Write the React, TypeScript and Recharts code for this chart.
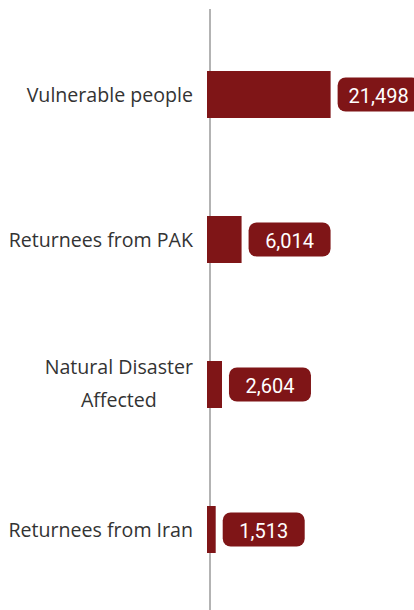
import React from 'react';
import { BarChart, Bar, XAxis, YAxis, LabelList, CartesianGrid } from 'recharts';

const categories = ['Vulnerable people', 'Returnees from PAK', 'Natural Disaster\nAffected', 'Returnees from Iran'];
const values = [21498, 6014, 2604, 1513];
const valueLabels = ['21,498', '6,014', '2,604', '1,513'];
const axisValues = [0];

const data = categories.map((c, i) => ({ name: c, value: values[i], label: valueLabels[i] }));

const BAR_COLOR = '#7f1517';
const TICK_FONT = "'Open Sans', sans-serif";
const TICK_SIZE = 19.6;

let ctx: CanvasRenderingContext2D | null = null;
const measure = (t: string) => {
  if (typeof document === 'undefined') return t.length * 9;
  if (!ctx) ctx = document.createElement('canvas').getContext('2d');
  if (!ctx) return t.length * 9;
  ctx.font = `${TICK_SIZE}px 'Open Sans'`;
  return ctx.measureText(t).width;
};

const CategoryTick = (props: any) => {
  const { x, y, payload } = props;
  const lines = String(payload.value).split('\n');
  if (lines.length === 1) {
    return (
      <text x={x} y={y} textAnchor="end" dominantBaseline="central" fill="#333" fontSize={TICK_SIZE} fontFamily={TICK_FONT}>
        {lines[0]}
      </text>
    );
  }
  const maxW = Math.max(...lines.map(measure));
  const cx = x - maxW / 2;
  const lineH = 33;
  const start = y - ((lines.length - 1) * lineH) / 2 - 2;
  return (
    <g>
      {lines.map((l, i) => (
        <text key={i} x={cx} y={start + i * lineH} textAnchor="middle" dominantBaseline="central" fill="#333" fontSize={TICK_SIZE} fontFamily={TICK_FONT}>
          {l}
        </text>
      ))}
    </g>
  );
};

const ValueLabel = (props: any) => {
  const { x, y, width, height, value } = props;
  const w = 82;
  const h = 34;
  const left = x + width + 7;
  const cy = y + height / 2;
  return (
    <g>
      <rect x={left} y={cy - h / 2} width={w} height={h} rx={8} ry={8} fill={BAR_COLOR} />
      <text x={left + w / 2} y={cy + 1} textAnchor="middle" dominantBaseline="central" fill="#fff" fontSize={20} fontFamily="Roboto, sans-serif" fontWeight={400}>
        {value}
      </text>
    </g>
  );
};

const renderAxisLine = (props: any) => {
  const { x1, y1, x2, y2, key, index } = props;
  return <line key={key ?? index} x1={x1 + 3} y1={y1} x2={x2 + 3} y2={y2} stroke="#9a9a9a" strokeWidth={1.5} />;
};

export default function App() {
  return (
    <div style={{ position: 'absolute', left: 0, top: 0, width: 414, height: 610, background: '#fff' }}>
      <BarChart width={414} height={610} data={data} layout="vertical" margin={{ top: 9, right: 0, bottom: 0, left: 0 }}>
        <CartesianGrid horizontal={false} vertical={renderAxisLine} verticalValues={axisValues} />
        <XAxis type="number" hide domain={[0, 36000]} />
        <YAxis
          type="category"
          dataKey="name"
          width={207}
          tickLine={false}
          tickSize={0}
          tickMargin={14}
          axisLine={false}
          padding={{ top: 13, bottom: 8 }}
          tick={<CategoryTick />}
          interval={0}
        />
        <Bar dataKey="value" fill={BAR_COLOR} barSize={47} isAnimationActive={false}>
          <LabelList dataKey="label" content={<ValueLabel />} />
        </Bar>
      </BarChart>
    </div>
  );
}
